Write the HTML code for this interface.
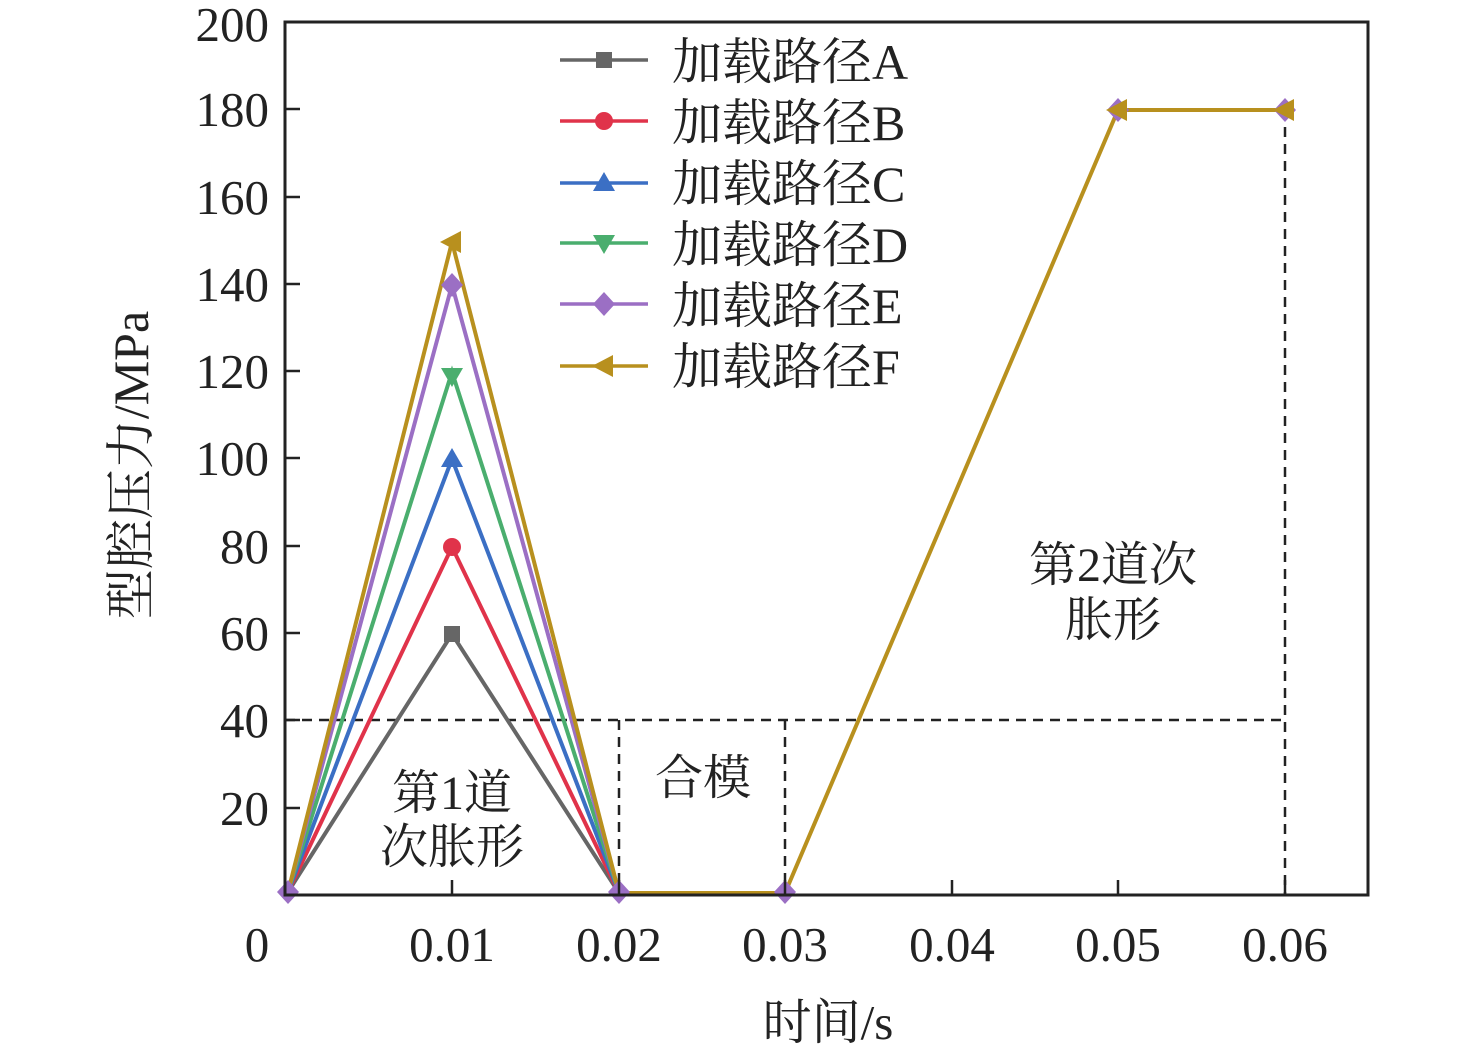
<!DOCTYPE html>
<html><head><meta charset="utf-8"><style>
html,body{margin:0;padding:0;background:#fff}
text{font-family:"Liberation Serif","Noto Serif CJK SC",serif;fill:#222}
</style></head><body>
<svg width="1476" height="1057" viewBox="0 0 1476 1057" xmlns="http://www.w3.org/2000/svg">
<defs>
<g id="mA"><rect x="-8" y="-8" width="16" height="16" fill="#666"/></g>
<g id="mB"><circle r="9" fill="#e0334a"/></g>
<g id="mC"><polygon points="0,-11 11,8 -11,8" fill="#3b6fc4"/></g>
<g id="mD"><polygon points="0,11 11,-8 -11,-8" fill="#4aae6e"/></g>
<g id="mE"><polygon points="0,-12 11,0 0,12 -11,0" fill="#9b6fc4"/></g>
<g id="mF"><polygon points="-12,0 9,-11 9,11" fill="#b8901e"/></g>
</defs>
<g stroke="#222" stroke-width="2.5" stroke-dasharray="10,7" fill="none">
<line x1="285" y1="720" x2="1285" y2="720"/>
<line x1="619" y1="720" x2="619" y2="895"/>
<line x1="785" y1="720" x2="785" y2="895"/>
<line x1="1285" y1="110" x2="1285" y2="895"/>
</g>
<g fill="none" stroke-width="4">
<polyline stroke="#666" points="288,892 452,634 619,893"/>
<polyline stroke="#e0334a" points="288,892 452,547 619,893"/>
<polyline stroke="#3b6fc4" points="288,892 452,459 619,893"/>
<polyline stroke="#4aae6e" points="288,892 452,372 619,893"/>
<polyline stroke="#9b6fc4" points="288,892 452,285 619,893"/>
<polyline stroke="#b8901e" points="288,892 452,242 619,893 785,893 1118,110 1285,110"/>
</g>
<use href="#mA" x="452" y="634"/><use href="#mB" x="452" y="547"/><use href="#mC" x="452" y="459"/>
<use href="#mD" x="452" y="376"/><use href="#mE" x="452" y="285"/><use href="#mF" x="452" y="242"/>
<use href="#mE" x="288" y="892"/><use href="#mE" x="619" y="892"/><use href="#mE" x="785" y="892"/>
<use href="#mE" x="1118" y="110"/><use href="#mE" x="1285" y="110"/>
<use href="#mF" x="1118" y="110"/><use href="#mF" x="1285" y="110"/>
<rect x="285" y="22" width="1083" height="873" fill="none" stroke="#222" stroke-width="3"/>
<g stroke="#222" stroke-width="2.5">
<line x1="452" y1="895" x2="452" y2="880"/><line x1="619" y1="895" x2="619" y2="880"/>
<line x1="785" y1="895" x2="785" y2="880"/><line x1="952" y1="895" x2="952" y2="880"/>
<line x1="1118" y1="895" x2="1118" y2="880"/><line x1="1285" y1="895" x2="1285" y2="880"/>
<line x1="285" y1="808" x2="300" y2="808"/><line x1="285" y1="720" x2="300" y2="720"/>
<line x1="285" y1="633" x2="300" y2="633"/><line x1="285" y1="546" x2="300" y2="546"/>
<line x1="285" y1="458" x2="300" y2="458"/><line x1="285" y1="371" x2="300" y2="371"/>
<line x1="285" y1="284" x2="300" y2="284"/><line x1="285" y1="197" x2="300" y2="197"/>
<line x1="285" y1="109" x2="300" y2="109"/>
</g>
<g font-size="49" text-anchor="end">
<text x="269" y="825">20</text><text x="269" y="737">40</text><text x="269" y="650">60</text>
<text x="269" y="563">80</text><text x="269" y="475">100</text><text x="269" y="388">120</text>
<text x="269" y="301">140</text><text x="269" y="214">160</text><text x="269" y="126">180</text>
<text x="269" y="41">200</text>
</g>
<g font-size="49" text-anchor="middle">
<text x="257" y="961">0</text><text x="452" y="961">0.01</text><text x="619" y="961">0.02</text>
<text x="785" y="961">0.03</text><text x="952" y="961">0.04</text><text x="1118" y="961">0.05</text>
<text x="1285" y="961">0.06</text>
<text x="828" y="1039">时间/s</text>
<text transform="translate(148,465) rotate(-90)" font-size="50">型腔压力/MPa</text>
</g>
<g font-size="48" text-anchor="middle">
<text x="452" y="809">第1道</text><text x="452" y="863">次胀形</text>
<text x="703" y="794">合模</text>
<text x="1113" y="581">第2道次</text><text x="1113" y="636">胀形</text>
</g>
<g stroke-width="3.5">
<line x1="560" y1="60" x2="648" y2="60" stroke="#666"/>
<line x1="560" y1="121" x2="648" y2="121" stroke="#e0334a"/>
<line x1="560" y1="183" x2="648" y2="183" stroke="#3b6fc4"/>
<line x1="560" y1="243" x2="648" y2="243" stroke="#4aae6e"/>
<line x1="560" y1="304" x2="648" y2="304" stroke="#9b6fc4"/>
<line x1="560" y1="366" x2="648" y2="366" stroke="#b8901e"/>
</g>
<use href="#mA" x="604" y="60"/><use href="#mB" x="604" y="121"/><use href="#mC" x="604" y="183"/>
<use href="#mD" x="604" y="243"/><use href="#mE" x="604" y="304"/><use href="#mF" x="604" y="366"/>
<g font-size="50">
<text x="672" y="79">加载路径A</text><text x="672" y="140">加载路径B</text>
<text x="672" y="201">加载路径C</text><text x="672" y="262">加载路径D</text>
<text x="672" y="323">加载路径E</text><text x="672" y="384">加载路径F</text>
</g>
</svg>
</body></html>
